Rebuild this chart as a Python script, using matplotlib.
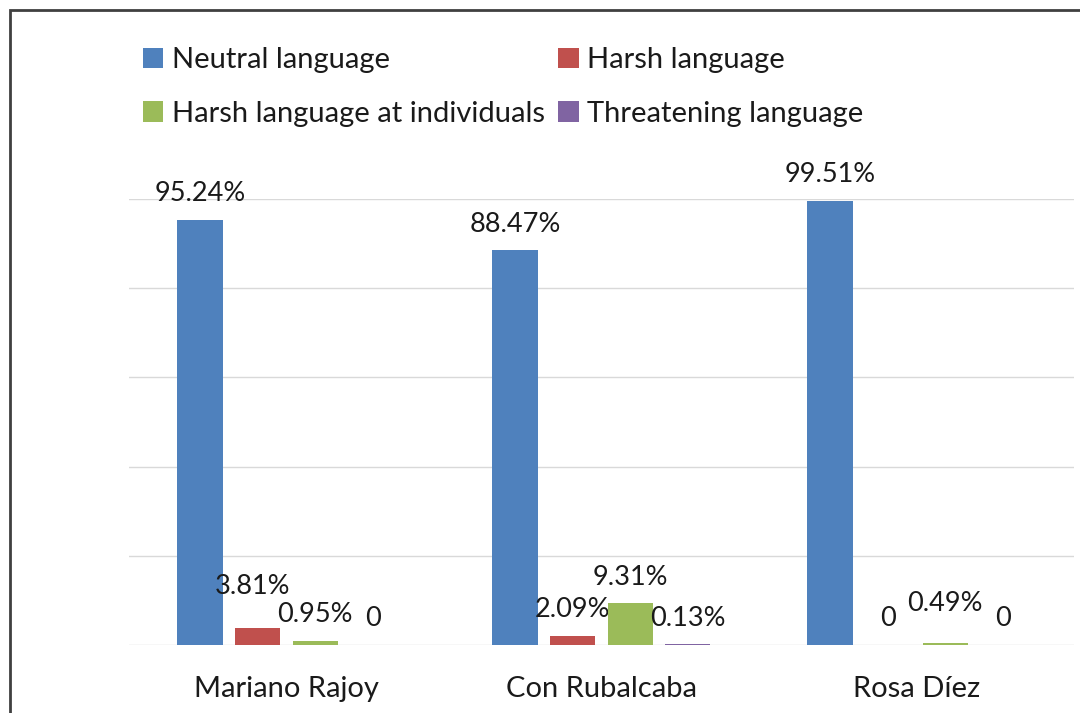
import numpy as np
import matplotlib.pyplot as plt
from matplotlib.patches import Rectangle

plt.rcParams['font.family'] = ['Lato', 'DejaVu Sans']

politicians = ['Mariano Rajoy', 'Con Rubalcaba', 'Rosa Díez']
series_names = ['Neutral language', 'Harsh language',
                'Harsh language at individuals', 'Threatening language']
neutral = [95.24, 88.47, 99.51]
harsh = [3.81, 2.09, 0.0]
harsh_individuals = [0.95, 9.31, 0.49]
threatening = [0.0, 0.13, 0.0]

colors = ['#4F81BD', '#C0504D', '#9BBB59', '#8064A2']
# extra nudges (points) for labels Excel moved to avoid overlap
label_nudge = {(1, 0): (-4, 11), (2, 2): (0, 9)}

fig = plt.figure(figsize=(10.8, 7.13), dpi=100)
ax = fig.add_axes([0.1194, 0.0954, 0.875, 0.6255])

x = np.arange(len(politicians))
width = 0.143
step = 0.183
all_values = [neutral, harsh, harsh_individuals, threatening]
bars = []
for i, vals in enumerate(all_values):
    pos = x + (i - 1.5) * step
    b = ax.bar(pos, vals, width, color=colors[i], label=series_names[i], zorder=3)
    bars.append(b)
    for j, v in enumerate(vals):
        txt = '0' if v == 0 else f'{v:.2f}%'
        dx, dy = label_nudge.get((i, j), (0, 0))
        ax.annotate(txt, (pos[j], v), xytext=(dx, 10 + dy), textcoords='offset points',
                    ha='center', va='bottom', fontsize=19.5, color='#1a1a1a')

ax.set_xlim(-0.5, 2.5)
ax.set_ylim(0, 100)
ax.set_yticks(np.arange(0, 101, 20))
ax.set_yticklabels([])
ax.tick_params(axis='y', length=0)
ax.tick_params(axis='x', length=0, pad=22, labelsize=21, labelcolor='#1a1a1a')
ax.set_xticks(x)
ax.set_xticklabels(politicians)
ax.grid(axis='y', color='#d9d9d9', linewidth=1, zorder=0)
for s in ax.spines.values():
    s.set_visible(False)

order = [0, 2, 1, 3]
handles = [bars[k] for k in order]
labels = [series_names[k] for k in order]
fig.legend(handles, labels, loc='upper left', bbox_to_anchor=(0.108, 0.971), ncol=2,
           frameon=False, fontsize=21, handlelength=0.7, handleheight=0.7,
           handletextpad=0.3, columnspacing=0.45, labelspacing=0.95, labelcolor='#1a1a1a')

fig.patches.append(Rectangle((10 / 1080, -0.1), 1.2, 1.1 - 12 / 713 + 0.003,
                             transform=fig.transFigure, fill=False,
                             edgecolor='#404040', linewidth=2))

fig.savefig('out.png', dpi=100)
